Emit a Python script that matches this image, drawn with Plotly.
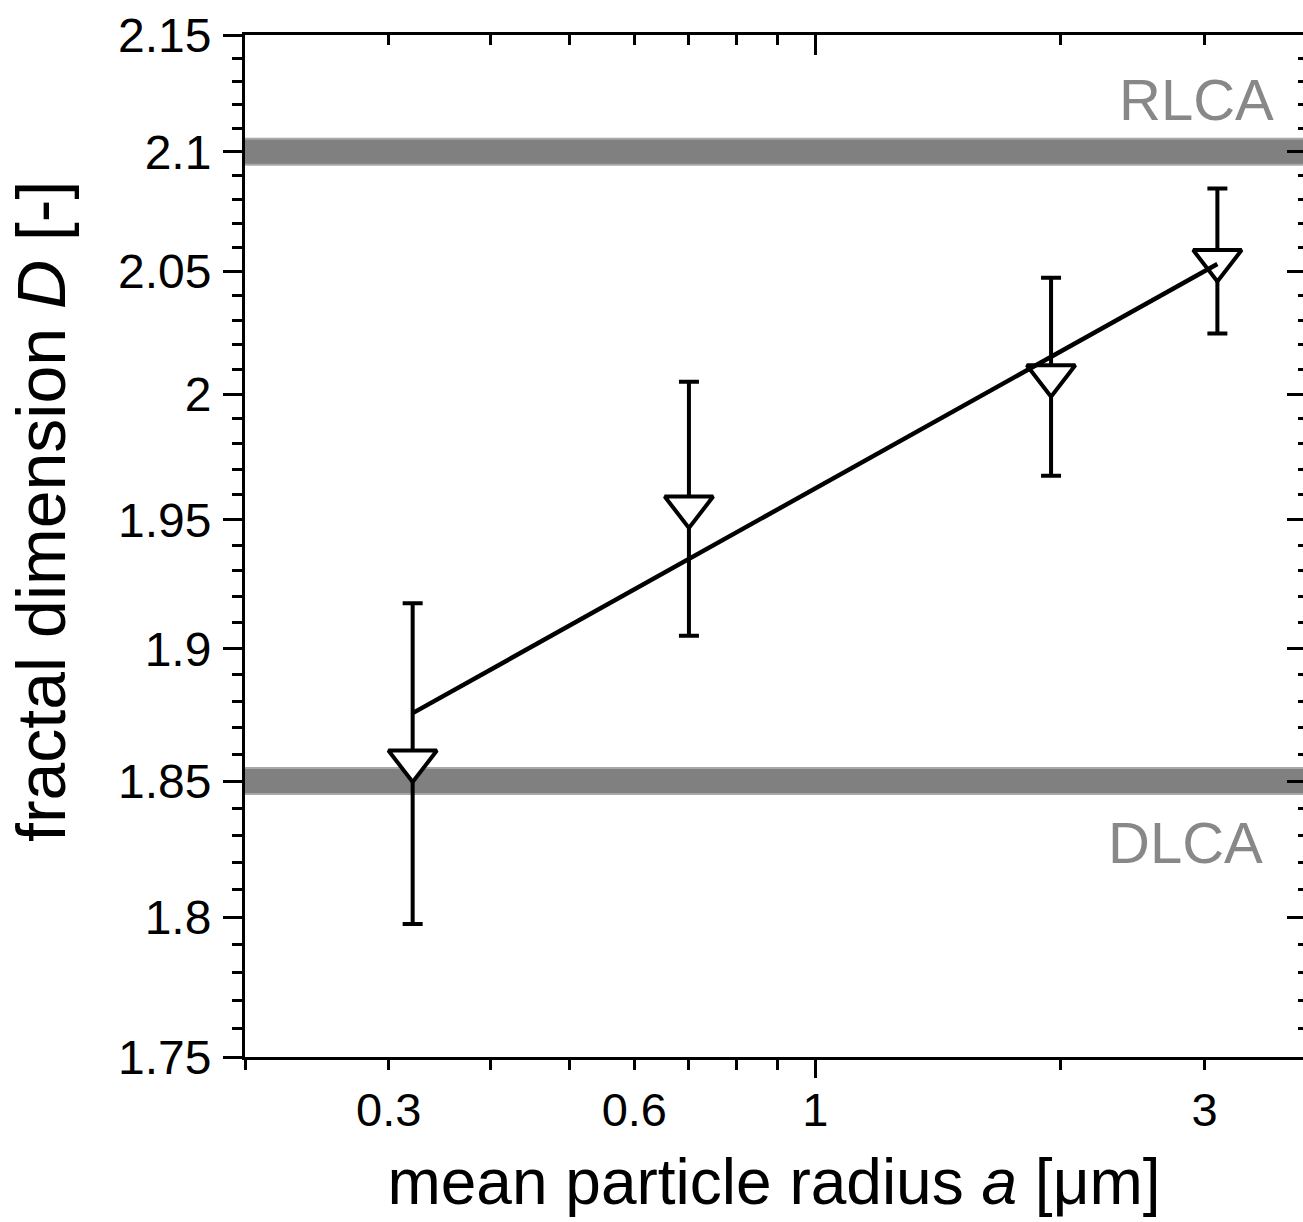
import math
import plotly.graph_objects as go

# ---------------- data ----------------
radius = [0.321, 0.70, 1.945, 3.11]            # mean particle radius a [µm]
fractal_dim = [1.8575, 1.955, 2.0074, 2.0545]   # fractal dimension D
fractal_err = [0.06, 0.05, 0.04, 0.03]          # error bars

fit_radius = [0.321, 3.11]                      # power-law fit end points
fit_dim = [1.8755, 2.0531]

ref_levels = [2.1, 1.85]                        # RLCA / DLCA limits
ref_labels = ["RLCA", "DLCA"]

x_tickvals = [0.3, 0.6, 1, 3]
x_ticktext = ["0.3", "0.6", "1", "3"]
x_minor = [0.2, 0.4, 0.5, 0.7, 0.8, 0.9, 2, 4]
x_decade = [1]

y_tickvals = [1.75, 1.8, 1.85, 1.9, 1.95, 2.0, 2.05, 2.1, 2.15]
y_ticktext = ["1.75", "1.8", "1.85", "1.9", "1.95", "2", "2.05", "2.1", "2.15"]
y_minor = [round(1.75 + 0.01 * i, 2) for i in range(41) if i % 5 != 0]

x_lim = [0.2, 3.96]
y_lim = [1.75, 2.15]

# ---------------- style ----------------
FONT = "Liberation Sans, Arial, sans-serif"
W, H = 1303, 1222
ML, MR, MT, MB = 245, 0, 35, 165
PW, PH = W - ML - MR, H - MT - MB
GRAY_TXT = "#888888"

fig = go.Figure()

# reference bands
for lvl in ref_levels:
    fig.add_trace(go.Scatter(x=[0.1, 10], y=[lvl, lvl], mode="lines",
                             line=dict(color="#a8a8a8", width=28),
                             hoverinfo="skip", showlegend=False))
    fig.add_trace(go.Scatter(x=[0.1, 10], y=[lvl, lvl], mode="lines",
                             line=dict(color="#808080", width=24),
                             hoverinfo="skip", showlegend=False))

# data points with error bars
fig.add_trace(go.Scatter(
    x=radius, y=fractal_dim, mode="markers",
    marker=dict(symbol="triangle-down", size=42, color="white",
                line=dict(color="black", width=4)),
    error_y=dict(type="data", array=fractal_err, visible=True,
                 color="black", thickness=4, width=10),
    showlegend=False))

# fit line (on top)
fig.add_trace(go.Scatter(x=fit_radius, y=fit_dim, mode="lines",
                         line=dict(color="black", width=4.5),
                         showlegend=False))

xr = [math.log10(v) for v in x_lim]
yr = [math.log10(v) for v in y_lim]

common_x = dict(type="log", range=xr, showgrid=False, zeroline=False)
common_y = dict(type="log", range=yr, showgrid=False, zeroline=False)

fig.update_layout(
    width=W, height=H,
    margin=dict(l=ML, r=MR, t=MT, b=MB, autoexpand=False),
    paper_bgcolor="white", plot_bgcolor="white",
    font=dict(family=FONT, color="black"),
    showlegend=False,
    xaxis=dict(**common_x,
               tickmode="array", tickvals=x_tickvals, ticktext=x_ticktext,
               ticks="outside", ticklen=10, tickwidth=3, tickcolor="black",
               tickfont=dict(size=47, family=FONT),
               showline=True, linewidth=3, linecolor="black",
               minor=dict(tickmode="array", tickvals=x_minor, ticks="outside",
                          ticklen=10, tickwidth=3, tickcolor="black", showgrid=False),
               title=dict(text="mean particle radius <i>a</i> [μm]",
                          font=dict(size=64, family=FONT), standoff=24),
               automargin=False),
    xaxis2=dict(**common_x, overlaying="x", side="top", anchor="y",
                tickmode="array", tickvals=x_decade, ticks="inside",
                ticklen=20, tickwidth=3, tickcolor="black",
                showticklabels=False, showline=True, linewidth=3, linecolor="black",
                minor=dict(tickmode="array", tickvals=x_tickvals[:2] + x_minor + x_tickvals[3:],
                           ticks="inside", ticklen=10, tickwidth=3,
                           tickcolor="black", showgrid=False)),
    xaxis3=dict(**common_x, overlaying="x", side="bottom", anchor="y",
                tickmode="array", tickvals=x_decade, ticks="outside",
                ticklen=20, tickwidth=3, tickcolor="black",
                showticklabels=False, showline=False),
    yaxis=dict(**common_y,
               tickmode="array", tickvals=y_tickvals, ticktext=y_ticktext,
               ticks="outside", ticklen=19, tickwidth=3, tickcolor="black",
               tickfont=dict(size=48, family=FONT), ticklabelstandoff=2,
               showline=True, linewidth=3, linecolor="black",
               minor=dict(tickmode="array", tickvals=y_minor, ticks="outside",
                          ticklen=10, tickwidth=3, tickcolor="black", showgrid=False),
               automargin=False),
    yaxis2=dict(**common_y, overlaying="y", side="right", anchor="x",
                tickmode="array", tickvals=y_tickvals, ticks="inside",
                ticklen=16, tickwidth=3, tickcolor="black",
                showticklabels=False, showline=False,
                minor=dict(tickmode="array", tickvals=y_minor, ticks="inside",
                           ticklen=5, tickwidth=3, tickcolor="black", showgrid=False)),
)

# hidden traces so the overlay axes are drawn
fig.add_trace(go.Scatter(x=[None], y=[None], xaxis="x2", yaxis="y2",
                         hoverinfo="skip", showlegend=False))
fig.add_trace(go.Scatter(x=[None], y=[None], xaxis="x3", yaxis="y",
                         hoverinfo="skip", showlegend=False))

# y-axis title (as rotated text, positioned like the reference)
fig.add_annotation(text="fractal dimension <i>D</i> [-]", xref="paper", yref="paper",
                   x=(41 - ML) / PW, y=(H - MB - 512) / PH,
                   xanchor="center", yanchor="middle", textangle=-90,
                   showarrow=False, font=dict(size=68, family=FONT, color="black"))

# RLCA / DLCA labels
fig.add_annotation(text=ref_labels[0], xref="paper", yref="paper",
                   x=(1276 - ML) / PW, y=(H - MB - 99) / PH,
                   xanchor="right", yanchor="middle", showarrow=False,
                   font=dict(size=58, color=GRAY_TXT, family=FONT))
fig.add_annotation(text=ref_labels[1], xref="paper", yref="paper",
                   x=(1265 - ML) / PW, y=(H - MB - 842) / PH,
                   xanchor="right", yanchor="middle", showarrow=False,
                   font=dict(size=58, color=GRAY_TXT, family=FONT))

fig.write_html("out.html", config={"displayModeBar": False},
               post_script="document.body.style.margin='0';document.body.style.overflow='hidden';")
